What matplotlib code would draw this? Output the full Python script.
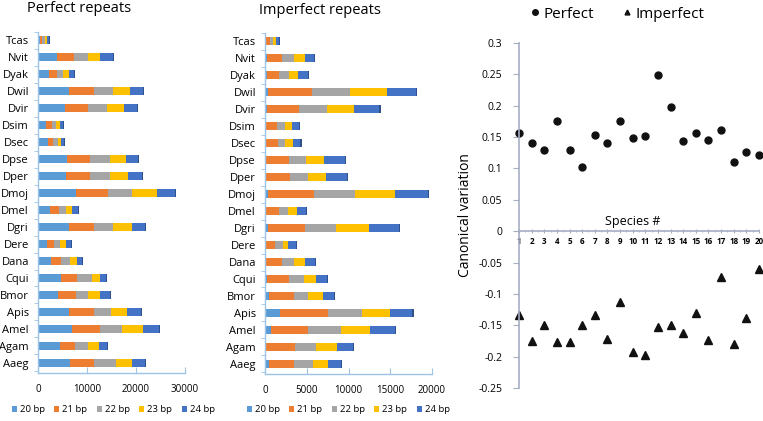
import matplotlib
matplotlib.use("Agg")
import matplotlib.pyplot as plt
import numpy as np
from matplotlib.ticker import FuncFormatter, MultipleLocator
from matplotlib.lines import Line2D

plt.rcParams['font.family'] = ['Open Sans', 'DejaVu Sans']

species = ["Aaeg", "Agam", "Amel", "Apis", "Bmor", "Cqui", "Dana", "Dere", "Dgri", "Dmel",
           "Dmoj", "Dper", "Dpse", "Dsec", "Dsim", "Dvir", "Dwil", "Dyak", "Nvit", "Tcas"]
series_names = ["20 bp", "21 bp", "22 bp", "23 bp", "24 bp"]
colors = ["#5B9BD5", "#ED7D31", "#A5A5A5", "#FFC000", "#4472C4"]

# Perfect repeats (order follows species list)
perf_20 = [6500, 4500, 6900, 6250, 4150, 4750, 2700, 1750, 6250, 2500, 7850, 5750, 5900, 1950, 1550, 5550, 6250, 2200, 3900, 400]
perf_21 = [5000, 3100, 5700, 5150, 3600, 3250, 2050, 1500, 5150, 1750, 6350, 4950, 4800, 1150, 1300, 4600, 5150, 1750, 3400, 500]
perf_22 = [4350, 2600, 4500, 3550, 2450, 3050, 1750, 1200, 4000, 1500, 5000, 4050, 3900, 950, 900, 3850, 3850, 1200, 2850, 500]
perf_23 = [3250, 2150, 4300, 3200, 2450, 1550, 1400, 1300, 3700, 1200, 5150, 3600, 3400, 550, 700, 3600, 3600, 1150, 2600, 400]
perf_24 = [2800, 1750, 3250, 2800, 1950, 1350, 1000, 1000, 2800, 1150, 3600, 2800, 2450, 800, 700, 2700, 2500, 1000, 2500, 400]

# Imperfect repeats
imp_20 = [450, 150, 700, 1800, 450, 200, 150, 150, 300, 150, 400, 150, 150, 150, 150, 200, 300, 200, 200, 150]
imp_21 = [3000, 3450, 4500, 5800, 3000, 2650, 1850, 1050, 4500, 1500, 5450, 2900, 2700, 1350, 1300, 3900, 5300, 1500, 1850, 500]
imp_22 = [2300, 2550, 3900, 4050, 1750, 1800, 1500, 900, 3700, 1100, 4900, 2050, 2100, 950, 950, 3300, 4550, 1200, 1400, 300]
imp_23 = [1850, 2500, 3500, 3350, 1750, 1450, 1300, 700, 3900, 1100, 4800, 2250, 2100, 900, 850, 3200, 4500, 1100, 1300, 350]
imp_24 = [1500, 1900, 3000, 2650, 1350, 1350, 1200, 950, 3600, 1050, 4000, 2500, 2550, 900, 850, 3100, 3400, 1100, 1150, 350]

# Canonical variation
species_num = list(range(1, 21))
cv_perfect = [0.157, 0.140, 0.130, 0.175, 0.130, 0.103, 0.153, 0.140, 0.176, 0.148,
              0.152, 0.249, 0.198, 0.143, 0.157, 0.145, 0.162, 0.111, 0.127, 0.122]
cv_imperfect = [-0.133, -0.175, -0.149, -0.177, -0.177, -0.150, -0.134, -0.172, -0.113, -0.192,
                -0.197, -0.153, -0.150, -0.162, -0.130, -0.174, -0.073, -0.180, -0.139, -0.060]

W, H = 763, 421
fig = plt.figure(figsize=(W / 100, H / 100), dpi=100)


def px_axes(x0, y0, x1, y1):
    return fig.add_axes([x0 / W, 1 - y1 / H, (x1 - x0) / W, (y1 - y0) / H])


spine_col = "#9DC3E6"


def bar_panel(ax, data, xmax, step, title, title_x, title_y, legend_x):
    y = np.arange(len(species))
    left = np.zeros(len(species))
    handles = []
    for vals, col, name in zip(data, colors, series_names):
        vals = np.array(vals, dtype=float)
        b = ax.barh(y, vals, left=left, height=0.47, color=col, edgecolor='none', label=name)
        handles.append(b)
        left += vals
    # dark end cap to hint the 3D look
    ax.barh(y, np.full(len(species), xmax * 0.007), left=left, height=0.47, color="#2F528F", edgecolor='none')
    ax.set_xlim(0, xmax)
    ax.set_ylim(-0.6, 19.3)
    ax.set_yticks(y)
    ax.set_yticklabels(species, fontsize=8)
    ax.set_yticks(np.arange(-0.5, 19.6, 1), minor=True)
    ax.tick_params(axis='y', which='major', length=0, pad=6.5)
    ax.tick_params(axis='y', which='minor', length=3, color=spine_col, direction='out')
    ax.set_xticks(np.arange(0, xmax + 1, step))
    ax.xaxis.set_major_formatter(FuncFormatter(lambda v, p: f"{int(v)}"))
    ax.tick_params(axis='x', length=4, color=spine_col, direction='in', labelsize=7, pad=8)
    for s in ['top', 'right']:
        ax.spines[s].set_visible(False)
    for s in ['left', 'bottom']:
        ax.spines[s].set_color(spine_col)
        ax.spines[s].set_linewidth(1.0)
    fig.text(title_x / W, 1 - title_y / H, title, fontsize=10.5, ha='left', va='center')
    fig.legend(handles=handles, labels=series_names, loc='center left',
               bbox_to_anchor=(legend_x / W, 1 - 410 / H), ncol=5, frameon=False,
               fontsize=6.8, handlelength=0.55, handleheight=0.55, handletextpad=0.3,
               columnspacing=1.0, borderaxespad=0)


ax1 = px_axes(38, 32, 185, 373)
bar_panel(ax1, [perf_20, perf_21, perf_22, perf_23, perf_24], 30000, 10000,
          "Perfect repeats", 27, 8, 8)

ax2 = px_axes(265, 33, 432, 374)
bar_panel(ax2, [imp_20, imp_21, imp_22, imp_23, imp_24], 20000, 5000,
          "Imperfect repeats", 259, 10, 243)

# Scatter panel
ax3 = px_axes(519, 43, 759, 388)
ax3.plot(species_num, cv_perfect, 'o', color='#111111', markersize=5, clip_on=False, label='Perfect')
ax3.plot(species_num, cv_imperfect, '^', color='#111111', markersize=5.5, clip_on=False, label='Imperfect')
ax3.set_xlim(1, 20)
ax3.set_ylim(-0.25, 0.3)
ax3.yaxis.set_major_locator(MultipleLocator(0.05))
ax3.yaxis.set_major_formatter(FuncFormatter(lambda v, p: f"{round(v, 2):g}"))
ax3.tick_params(axis='y', length=4, color='#A6AEC4', labelsize=7.5, pad=8)
ax3.spines['bottom'].set_position(('data', 0))
for s in ['top', 'right']:
    ax3.spines[s].set_visible(False)
for s in ['left', 'bottom']:
    ax3.spines[s].set_color('#A6AEC4')
    ax3.spines[s].set_linewidth(1.2)
ax3.set_xticks(species_num)
ax3.set_xticks(np.arange(1.5, 20, 1), minor=True)
ax3.tick_params(axis='x', which='major', length=3, direction='inout', color='#A6AEC4',
                labelsize=5.8, pad=3)
ax3.tick_params(axis='x', which='minor', length=2, direction='inout', color='#A6AEC4')
for lbl in ax3.get_xticklabels():
    lbl.set_fontweight('bold')
ax3.set_ylabel("Canonical variation", fontsize=10, labelpad=4)
ax3.text(633 / W, 1 - 222 / H, "Species #", transform=fig.transFigure, fontsize=9,
         ha='center', va='center')

leg_handles = [Line2D([], [], marker='o', ls='none', color='#111111', markersize=4),
               Line2D([], [], marker='^', ls='none', color='#111111', markersize=3.5)]
fig.legend(handles=leg_handles, labels=['Perfect', 'Imperfect'], loc='center',
           bbox_to_anchor=(616 / W, 1 - 14 / H), ncol=2, frameon=False, fontsize=11,
           handletextpad=0.1, columnspacing=1.6, borderaxespad=0, handlelength=1)

fig.savefig("out.png", dpi=100)
